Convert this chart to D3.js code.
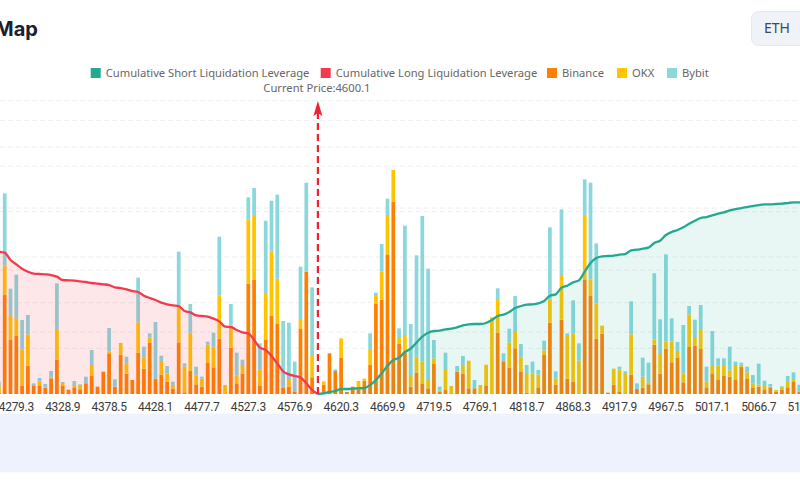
<!DOCTYPE html>
<html>
<head>
<meta charset="utf-8">
<script src="https://cdn.jsdelivr.net/npm/d3@7"></script>
<style>
  html, body { margin: 0; padding: 0; background: #fff; overflow: hidden; }
  svg { display: block; }
</style>
</head>
<body>
<div id="chart"></div>
<script>
const prices = [
  "4260.7","4266.9","4273.1","4279.3","4285.5","4291.7","4297.9","4304.1","4310.3","4316.5",
  "4322.7","4328.9","4335.1","4341.3","4347.5","4353.7","4359.9","4366.1","4372.3","4378.5",
  "4384.7","4390.9","4397.1","4403.3","4409.5","4415.7","4421.9","4428.1","4434.3","4440.5",
  "4446.7","4452.9","4459.1","4465.3","4471.5","4477.7","4483.9","4490.1","4496.3","4502.5",
  "4508.7","4514.9","4521.1","4527.3","4533.5","4539.7","4545.9","4552.1","4558.3","4564.5",
  "4570.7","4576.9","4583.1","4589.3","4595.5","4600.1","4601.7","4607.9","4614.1","4620.3",
  "4626.5","4632.7","4638.9","4645.1","4651.3","4657.5","4663.7","4669.9","4676.1","4682.3",
  "4688.5","4694.7","4700.9","4707.1","4713.3","4719.5","4725.7","4731.9","4738.1","4744.3",
  "4750.5","4756.7","4762.9","4769.1","4775.3","4781.5","4787.7","4793.9","4800.1","4806.3",
  "4812.5","4818.7","4824.9","4831.1","4837.3","4843.5","4849.7","4855.9","4862.1","4868.3",
  "4874.5","4880.7","4886.9","4893.1","4899.3","4905.5","4911.7","4917.9","4924.1","4930.3",
  "4936.5","4942.7","4948.9","4955.1","4961.3","4967.5","4973.7","4979.9","4986.1","4992.3",
  "4998.5","5004.7","5010.9","5017.1","5023.3","5029.5","5035.7","5041.9","5048.1","5054.3",
  "5060.5","5066.7","5072.9","5079.1","5085.3","5091.5","5097.7","5103.9","5110.1","5116.3"
];
const tickPrices = ["4279.3","4328.9","4378.5","4428.1","4477.7","4527.3","4576.9","4620.3","4669.9","4719.5",
  "4769.1","4818.7","4868.3","4917.9","4967.5","5017.1","5066.7","5116.3"];
const currentPrice = "4600.1";

const binance = [4,
  297,162,174,24,85,24,24,18,47,103,
  24,13,18,14,32,54,22,67,122,22,
  118,61,42,124,76,153,46,58,37,16,
  155,5,69,29,22,93,80,166,0,139,
  32,60,331,344,24,164,
  234,210,18,22,6,197,367,50,
  0,
  28,122,69,108,6,22,12,40,87,272,
  283,419,576,150,124,22,64,32,17,90,
  6,12,2,67,60,17,17,2,26,0,
  184,98,78,137,68,4,
  2,20,117,214,28,223,46,36,0,344,294,166,181,4,28,8,2,58,15,19,29,148,61,136,95,
  108,35,141,144,135,20,62,44,54,52,44,82,45,20,22,14,18,7,12,20,36,7,20];
const okx = [20,
  88,72,53,110,94,0,13,2,3,89,
  6,0,6,10,0,30,0,0,5,0,
  35,31,0,91,34,16,0,38,24,11,
  103,77,115,27,24,55,62,129,27,66,
  24,27,192,190,50,136,
  193,136,0,20,0,25,0,67,
  0,
  10,0,0,59,0,0,27,6,45,25,
  84,118,96,21,53,32,48,65,28,17,
  4,63,22,0,24,83,0,25,62,230,
  98,0,77,49,42,56,
  60,38,14,70,19,134,131,146,100,193,50,106,24,0,48,66,58,121,0,33,6,16,59,21,63,
  21,26,98,24,57,18,22,41,30,19,43,6,20,12,6,10,4,5,6,16,6,0,10];
const bybit = [13,
  217,82,131,88,58,8,11,10,19,140,
  6,0,15,5,20,48,0,0,71,22,
  0,20,0,134,32,13,170,19,23,10,
  169,10,86,26,6,9,42,177,0,65,
  68,16,67,84,78,220,
  153,252,201,172,91,160,267,203,
  0,
  0,0,5,0,0,0,0,0,50,7,
  83,49,0,26,328,156,304,437,331,55,
  12,49,0,17,30,0,25,0,0,0,
  35,24,41,108,40,27,
  35,14,29,216,21,197,5,99,52,107,290,180,0,0,0,8,8,99,17,57,59,198,104,262,69,
  27,146,25,55,75,44,105,22,23,71,10,6,17,25,63,16,8,0,5,18,23,21,15];

// starts at the first price, ends at the current price
const longLeverage = [427,424,402,389,376,367,361,360,359,357,352,342,341,340,338,336,333,331,329,327,
  320,318,314,309,306,295,288,282,274,269,266,264,249,245,236,234,232,226,218,202,
  201,192,185,182,162,139,132,114,92,68,59,54,50,32,12,0];
// starts at the current price, ends at the last price
const shortLeverage = [0,2,6,9,15,15,16,17,18,27,42,62,85,102,109,126,136,154,172,184,
  189,190,194,196,200,206,209,210,210,213,222,234,238,246,258,264,268,269,
  272,279,295,299,319,325,335,341,367,393,408,413,414,415,418,420,431,433,436,439,
  453,460,477,486,492,500,511,520,528,531,536,541,545,551,555,558,561,564,567,569,
  569,570,571,573,575,575,576];

const barTicks = [137,274,411,547,684,821];
const lineTicks = [186,372,558,741,880];

const legendNames = ["Cumulative Short Liquidation Leverage","Cumulative Long Liquidation Leverage","Binance","OKX","Bybit"];
const legendColors = ["#22a98f","#f23b4e","#ff8000","#ffc400","#8ad8dc"];
const legendLeft = [90.7,320.7,547,617,667];

const width = 800, height = 500;
const margins = {top: 100.7, bottom: 106};
const green = legendColors[0], red = legendColors[1];
const exchanges = ["binance","okx","bybit"];

const data = prices.map((p, i) => ({price: p, binance: binance[i], okx: okx[i], bybit: bybit[i]}));
const longData = longLeverage.map((v, i) => ({price: prices[i], value: v}));
const shortData = shortLeverage.map((v, i) => ({price: prices[i + prices.indexOf(currentPrice)], value: v}));

const svg = d3.select("#chart")
  .append("svg")
  .attr("width", width)
  .attr("height", height)
  .attr("viewBox", [0, 0, width, height]);

// the chart runs a bit past both window edges
const xScale = d3.scaleBand()
  .domain(prices)
  .range([-4, 808])
  .paddingInner(0.36)
  .paddingOuter(0.18);

const yScale = d3.scaleLinear()
  .domain([0, 880])
  .range([height - margins.bottom, margins.top]);

const xMid = d => xScale(d) + xScale.bandwidth() / 2;

svg.append("rect")
  .attr("x", 0)
  .attr("y", 413.7)
  .attr("width", width)
  .attr("height", 58.6)
  .attr("fill", "#eef2fd");

svg.append("g")
  .selectAll("line")
  .data(barTicks.concat(lineTicks))
  .join("line")
    .attr("x1", 0)
    .attr("x2", width)
    .attr("y1", d => yScale(d))
    .attr("y2", d => yScale(d))
    .attr("stroke", "#eeeeee")
    .attr("stroke-dasharray", "5,3");

const stack = d3.stack().keys(exchanges);
svg.append("g")
  .selectAll("g")
  .data(stack(data))
  .join("g")
    .attr("fill", (d, i) => legendColors[i + 2])
  .selectAll("rect")
  .data(d => d)
  .join("rect")
    .attr("x", d => xScale(d.data.price))
    .attr("y", d => yScale(d[1]))
    .attr("width", xScale.bandwidth())
    .attr("height", d => yScale(d[0]) - yScale(d[1]));

const area = d3.area()
  .curve(d3.curveMonotoneX)
  .x(d => xMid(d.price))
  .y0(yScale(0))
  .y1(d => yScale(d.value));

const line = d3.line()
  .curve(d3.curveMonotoneX)
  .x(d => xMid(d.price))
  .y(d => yScale(d.value));

[[longData, red, 0.12], [shortData, green, 0.1]].forEach(([d, color, alpha]) => {
  svg.append("path")
    .attr("d", area(d))
    .attr("fill", color)
    .attr("fill-opacity", alpha);
  svg.append("path")
    .attr("d", line(d))
    .attr("fill", "none")
    .attr("stroke", color)
    .attr("stroke-width", 2.3);
});

// current price marker
const cx = xMid(currentPrice);
svg.append("line")
  .attr("x1", cx)
  .attr("x2", cx)
  .attr("y1", 112)
  .attr("y2", yScale(0))
  .attr("stroke", "#ee2233")
  .attr("stroke-width", 2.2)
  .attr("stroke-dasharray", "7,4");

svg.append("path")
  .attr("d", `M${cx},101 L${cx + 4.5},116 L${cx},113 L${cx - 4.5},116 Z`)
  .attr("fill", "#ee2233");

svg.append("text")
  .attr("x", cx - 1)
  .attr("y", 92)
  .attr("text-anchor", "middle")
  .style("font-family", "'Noto Sans', sans-serif")
  .style("font-size", "11.2px")
  .style("fill", "#666")
  .text(`Current Price:${currentPrice}`);

const xAxis = d3.axisBottom(xScale)
  .tickValues(tickPrices)
  .tickSize(0)
  .tickPadding(8);

svg.append("g")
  .attr("transform", `translate(0,${yScale(0)})`)
  .call(xAxis)
  .call(g => g.select(".domain").remove())
  .call(g => g.selectAll("text")
    .style("font-family", "Roboto, sans-serif")
    .style("font-size", "12px")
    .style("letter-spacing", "-0.3px")
    .style("fill", "#3a3a3a"));

// legend
const legend = svg.append("g")
  .selectAll("g")
  .data(legendNames)
  .join("g")
    .attr("transform", (d, i) => `translate(${legendLeft[i]},68)`);

legend.append("rect")
  .attr("width", 10)
  .attr("height", 10)
  .attr("fill", (d, i) => legendColors[i]);

legend.append("text")
  .attr("x", 15)
  .attr("y", 9)
  .style("font-family", "'Noto Sans', sans-serif")
  .style("font-size", "11.2px")
  .style("fill", "#666")
  .text(d => d);

// page furniture around the chart
svg.append("text")
  .attr("x", -5)
  .attr("y", 36)
  .style("font-family", "Inter, sans-serif")
  .style("font-size", "20px")
  .style("font-weight", 700)
  .style("fill", "#1a202c")
  .text("Map");

svg.append("rect")
  .attr("x", 751.5)
  .attr("y", 11.5)
  .attr("width", 70)
  .attr("height", 34)
  .attr("rx", 7)
  .attr("fill", "#eff3f7")
  .attr("stroke", "#e6eaee");

svg.append("text")
  .attr("x", 777)
  .attr("y", 33)
  .attr("text-anchor", "middle")
  .style("font-family", "'Noto Sans', sans-serif")
  .style("font-size", "14px")
  .style("fill", "#3c4a5a")
  .text("ETH");
</script>
</body>
</html>
